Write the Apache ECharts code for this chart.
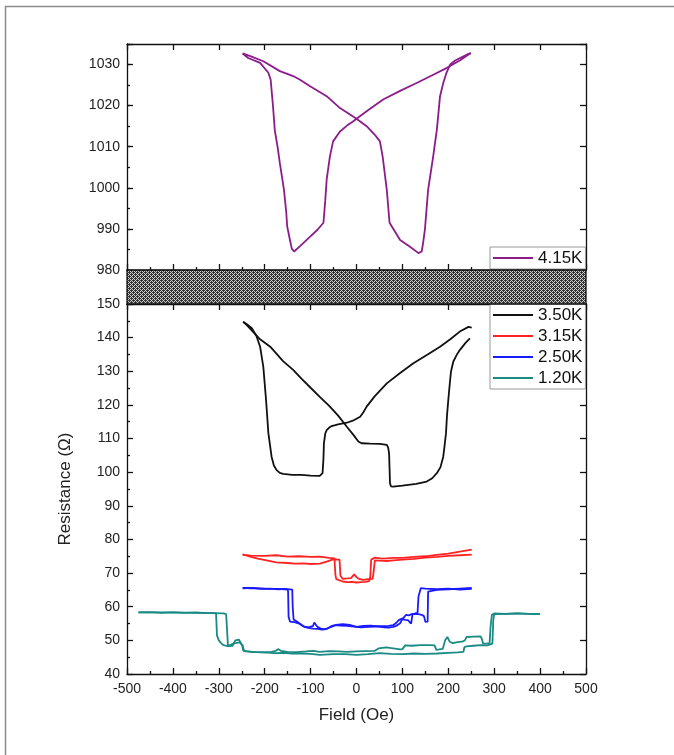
<!DOCTYPE html>
<html>
<head>
<meta charset="utf-8">
<script src="https://cdn.jsdelivr.net/npm/echarts@6/dist/echarts.min.js"></script>
<style>
html,body{margin:0;padding:0;background:#fff;}
#chart{width:674px;height:755px;}
</style>
</head>
<body>
<div id="chart"></div>
<script>
// ---------------- data ----------------
const xTicks = [-500,-400,-300,-200,-100,0,100,200,300,400,500];
const upperTicks = [980,990,1000,1010,1020,1030];
const lowerTicks = [40,50,60,70,80,90,100,110,120,130,140,150];
const names = ['4.15K','3.50K','3.15K','2.50K','1.20K'];

// 4.15K (upper panel)
const f415up = [-248,-236,-210,-192,-187,-182,-178,-172,-167,-158,-153,-151,-145,-141,-136,-123,-101,-85,-72,-68,-65,-58,-51,-36,-20,-7,0,25,58,95,131,165,197,225,249];
const r415up = [1032.7,1031.6,1030.4,1028,1026.3,1020,1014,1010,1006,999.5,994,990.6,987.3,985.2,984.5,985.8,988.1,989.8,991.5,997,1002,1007.6,1011.3,1013.7,1015.2,1016.2,1016.8,1018.9,1021.5,1023.6,1025.5,1027.4,1029.2,1031,1032.8];
const f415dn = [249,240,233,215,204,196,189,182,175,167,156,149,145,142,135,115,95,72,66,57,51,40,22,0,-36,-65,-101,-123,-138,-167,-203,-230,-248];
const r415dn = [1032.8,1032.4,1032,1031,1030,1028,1025.5,1022.3,1014.1,1007.6,999.5,989.8,986.5,984.5,984.1,985.8,987.3,991.5,999.5,1007.6,1011.3,1012.9,1015,1016.8,1019.4,1022.3,1024.7,1026.3,1027.2,1028.4,1030.8,1032,1032.7];

// 3.50K
const f350up = [-247,-238,-228,-218,-210,-203,-197,-192,-185,-180,-174,-167,-160,-140,-120,-100,-80,-76,-74,-72,-71,-68,-65,-60,-54,-40,-21,-5,8,15,22,40,66,95,124,155,182,205,225,244,251];
const r350up = [144.7,143.9,142.8,140.5,137.3,131.3,121.4,111.6,104.6,102.0,100.6,99.8,99.5,99.2,99.2,99.0,98.9,99.2,99.7,104,108.6,111.5,112.5,113.2,113.7,114.2,114.7,115.5,116.5,117.8,119.5,122.6,126.4,129.5,132.4,135,137.3,139.6,141.8,143.2,143.0];
const f350dn = [247,238,225,218,211,206,204,202,200,197,195,192,189,183,175,165,153,130,100,80,75,73,71,69,66,51,30,11,4,-5,-21,-40,-60,-80,-100,-120,-138,-160,-188,-210,-239,-247];
const r350dn = [139.8,138.5,136.3,134.8,132.9,130,127.4,124.5,121.5,116.5,111.6,108,104.6,101.5,99.7,98.2,97.2,96.5,96.0,95.7,95.8,96.7,105.6,107.3,108.1,108.4,108.5,108.6,109.1,110.8,113.5,116.8,119.8,122.4,125.1,127.8,130.4,133.0,137.3,139.5,143.7,144.7];

// 3.15K
const f315up = [-248,-230,-200,-175,-150,-125,-100,-80,-60,-48,-46,-44,-40,-30,-20,-10,0,10,20,28,30,32,36,40,55,66,80,100,125,150,175,200,225,251];
const r315up = [75.4,75.2,75.1,75.3,74.9,75.0,74.8,74.9,74.5,74.4,69.5,68.2,67.8,67.5,67.3,67.4,67.2,67.3,67.4,67.7,69,74.0,74.5,74.6,74.3,74.4,74.5,74.5,74.8,75.0,75.4,75.8,76.4,77.0];
const f315dn = [251,225,200,175,150,125,100,80,66,50,40,38,37,35,25,15,5,0,-5,-8,-12,-20,-30,-34,-35,-37,-51,-65,-80,-100,-116,-135,-150,-175,-196,-215,-230,-248];
const r315dn = [75.5,75.3,75.1,74.8,74.6,74.2,74.0,73.8,73.6,73.7,73.8,73.5,70,68.3,68.2,68.0,68.3,68.8,69.6,69.2,68.5,68.4,68.3,68.6,69.2,74.0,74.1,73.4,72.8,72.7,72.9,72.8,73.0,73.2,73.8,74.3,74.8,75.6];

// 2.50K
const f250up = [-248,-230,-210,-190,-170,-155,-140,-139,-137,-130,-124,-118,-110,-102,-95,-92,-89,-85,-78,-70,-63,-55,-45,-35,-20,-5,10,25,40,55,70,80,88,92,96,102,108,114,120,128,135,142,147,150,153,155,156,160,175,200,225,251];
const r250up = [65.6,65.5,65.3,65.4,65.2,65.3,65.1,60,56.2,55.6,55.0,54.4,53.9,54.0,54.2,55.3,54.8,54.0,53.5,53.3,53.6,54.0,54.5,54.4,54.3,54.1,53.9,54.0,54.1,54.2,54.3,54.5,55.4,56.0,56.2,56.6,57.6,57.4,57.8,57.9,57.8,57.6,57.2,55.5,55.1,55.6,64.5,64.8,65.0,65.2,65.4,65.6];
const f250dn = [251,225,200,175,150,140,136,135,133,128,122,119,116,112,106,100,95,90,85,80,70,60,45,30,15,0,-15,-30,-45,-55,-65,-75,-85,-95,-105,-115,-125,-135,-145,-148,-149,-150,-170,-200,-225,-248];
const r250dn = [65.3,65.1,65.4,65.2,65.4,65.5,65.4,63,58.2,58.0,57.8,55,54.8,56,56.1,56.3,55.1,54.6,54.2,54.0,53.8,53.9,54.2,54.4,54.3,54.0,54.6,54.8,54.6,54.2,53.4,53.2,53.4,53.5,53.7,54.1,55.0,55.4,55.6,57,64.5,65.1,65.3,65.4,65.6,65.5];

// 1.20K
const f120up = [-475,-450,-425,-400,-375,-350,-325,-306,-304,-300,-295,-290,-280,-270,-264,-260,-256,-252,-249,-247,-240,-230,-215,-200,-185,-176,-170,-165,-150,-130,-110,-94,-80,-60,-40,-20,0,20,40,48,52,65,80,95,100,106,120,140,160,170,174,180,188,193,198,203,210,220,230,236,240,255,270,273,276,285,290,292,295,300,325,350,375,400];
const r120up = [58.3,58.4,58.2,58.3,58.2,58.3,58.1,58.1,51.5,50.0,49.2,48.6,48.3,48.4,50.0,50.5,50.2,49.8,48.5,47.0,46.8,46.6,46.5,46.4,46.6,46.9,47.4,46.9,46.6,46.5,46.7,46.9,46.6,46.8,46.7,46.6,46.7,46.8,46.9,47.6,48.0,47.9,47.6,47.3,47.4,48.5,48.4,48.6,48.6,48.5,47.2,47.3,47.5,50.0,51.0,49.6,49.2,49.5,49.6,50.0,51.0,51.1,51.2,50.5,49.0,49.1,49.2,54,57.6,58.0,57.9,58.0,57.9,57.8];
const f120dn = [400,375,350,325,300,298,296,292,285,270,255,240,235,233,220,200,175,150,125,100,75,50,25,0,-25,-50,-80,-100,-120,-140,-160,-180,-200,-220,-240,-245,-248,-255,-265,-272,-276,-280,-282,-284,-290,-320,-350,-400,-440,-475];
const r120dn = [57.8,57.9,58.0,57.9,57.8,56,49.0,48.7,48.5,48.6,48.4,48.2,48.0,46.6,46.4,46.3,46.1,46.0,46.1,45.9,46.0,46.2,45.9,45.7,45.9,45.9,45.7,46.0,46.1,46.1,46.3,46.2,46.4,46.5,46.7,46.8,48.5,49.4,49.2,48.8,48.3,48.3,48.4,57.8,58.0,58.1,58.2,58.3,58.3,58.3];

// ---------------- chart ----------------
const FONT = "'Liberation Sans', Arial, sans-serif";
const colors = {'4.15K':'#8c1c8c','3.50K':'#111111','3.15K':'#ff2222','2.50K':'#1a1aff','1.20K':'#1a8a84'};
const zip = (xs, ys) => xs.map((x, i) => [x, ys[i]]);

const curves = [
  {name:'4.15K', up:[f415up,r415up], dn:[f415dn,r415dn], panel:0},
  {name:'3.50K', up:[f350up,r350up], dn:[f350dn,r350dn], panel:1},
  {name:'3.15K', up:[f315up,r315up], dn:[f315dn,r315dn], panel:1},
  {name:'2.50K', up:[f250up,r250up], dn:[f250dn,r250dn], panel:1},
  {name:'1.20K', up:[f120up,r120up], dn:[f120dn,r120dn], panel:1}
];
const series = [];
curves.forEach(c => {
  [c.up, c.dn].forEach(b => {
    series.push({
      type:'line', name:c.name,
      xAxisIndex: c.panel === 0 ? 0 : 2,
      yAxisIndex: c.panel === 0 ? 0 : 3,
      data: zip(b[0], b[1]),
      symbol:'none', showSymbol:false, smooth:false,
      lineStyle:{color:colors[c.name], width:1.8},
      itemStyle:{color:colors[c.name]},
      z: 3
    });
  });
});

const AX = '#111';
const lbl = {fontSize:14, color:'#222', fontFamily:FONT};
function xAx(grid, pos, opts) {
  return Object.assign({
    type:'value', gridIndex:grid, position:pos,
    min:xTicks[0], max:xTicks[xTicks.length-1], interval:100,
    axisLine:{show:true, onZero:false, lineStyle:{color:AX, width:1.3}},
    axisTick:{show:true, inside:true, length:6, lineStyle:{color:AX, width:1.3}},
    minorTick:{show:false},
    axisLabel:{show:false},
    splitLine:{show:false}
  }, opts);
}
function yAx(grid, pos, ticks, interval, opts) {
  return Object.assign({
    type:'value', gridIndex:grid, position:pos,
    min:ticks[0], max:ticks[ticks.length-1], interval:interval,
    axisLine:{show:true, onZero:false, lineStyle:{color:AX, width:1.3}},
    axisTick:{show:true, inside:true, length:6, lineStyle:{color:AX, width:1.3}},
    minorTick:{show:false},
    axisLabel:{show:false},
    splitLine:{show:false}
  }, opts);
}

const minorStyle = {show:true, splitNumber:2, length:3, lineStyle:{color:AX, width:1.3}};

// hatch pattern for axis break band
const pc = document.createElement('canvas');
pc.width = 4; pc.height = 4;
const pctx = pc.getContext('2d');
pctx.fillStyle = '#d0d0d0'; pctx.fillRect(0,0,4,4);
pctx.fillStyle = '#333333';
[[0,0],[2,0],[1,1],[3,1],[0,2],[2,2],[1,3],[3,3],[1,0],[3,2]].forEach(p => pctx.fillRect(p[0],p[1],1,1));

const legendBase = {
  orient:'vertical', left:490, icon:'rect',
  itemWidth:40, itemHeight:2, itemGap:1, padding:[1,3,1,3],
  borderColor:'#999', borderWidth:1, backgroundColor:'#fff', selectedMode:false,
  textStyle:{fontSize:17, lineHeight:20, color:'#111', fontFamily:FONT}
};

const option = {
  animation:false,
  backgroundColor:'#ffffff',
  textStyle:{fontFamily:FONT},
  grid:[
    {left:127, top:44, width:459, height:226},
    {left:127, top:304, width:459, height:370}
  ],
  xAxis:[
    xAx(0,'bottom',{minorTick:minorStyle}),
    xAx(0,'top',{}),
    xAx(1,'bottom',{minorTick:minorStyle,
      axisLabel:Object.assign({show:true, margin:8}, lbl),
      name:'Field (Oe)', nameLocation:'middle', nameGap:33,
      nameTextStyle:{fontSize:17, color:'#222', fontFamily:FONT}}),
    xAx(1,'top',{})
  ],
  yAxis:[
    yAx(0,'left',[980,1035],10,{
      axisLabel:Object.assign({show:true, margin:7,
        formatter:v => (upperTicks.indexOf(v) >= 0 ? String(v) : '')}, lbl)}),
    yAx(0,'left',[980,1035],5,{axisLine:{show:false, onZero:false},
      axisTick:{show:true, inside:true, length:3, lineStyle:{color:AX, width:1.3}}}),
    yAx(0,'right',[980,1035],10,{}),
    yAx(1,'left',lowerTicks,10,{minorTick:minorStyle,
      axisLabel:Object.assign({show:true, margin:7}, lbl),
      name:'Resistance (\u03A9)', nameLocation:'middle', nameGap:53,
      nameTextStyle:{fontSize:17, color:'#222', fontFamily:FONT}}),
    yAx(1,'right',lowerTicks,10,{})
  ],
  legend:[
    Object.assign({data:[names[0]], top:247}, legendBase),
    Object.assign({data:names.slice(1), top:304}, legendBase)
  ],
  graphic:[
    {type:'rect', silent:true, z:-10,
     shape:{x:5.5, y:6.5, width:720, height:800},
     style:{fill:'none', stroke:'#8a8a8a', lineWidth:1.5}},
    {type:'rect', silent:true, z:100,
     shape:{x:127, y:270, width:459, height:34},
     style:{fill:{image:pc, repeat:'repeat'}, stroke:AX, lineWidth:1.3}}
  ],
  series:series
};

const chart = echarts.init(document.getElementById('chart'), null, {renderer:'canvas'});
chart.setOption(option);
</script>
</body>
</html>
